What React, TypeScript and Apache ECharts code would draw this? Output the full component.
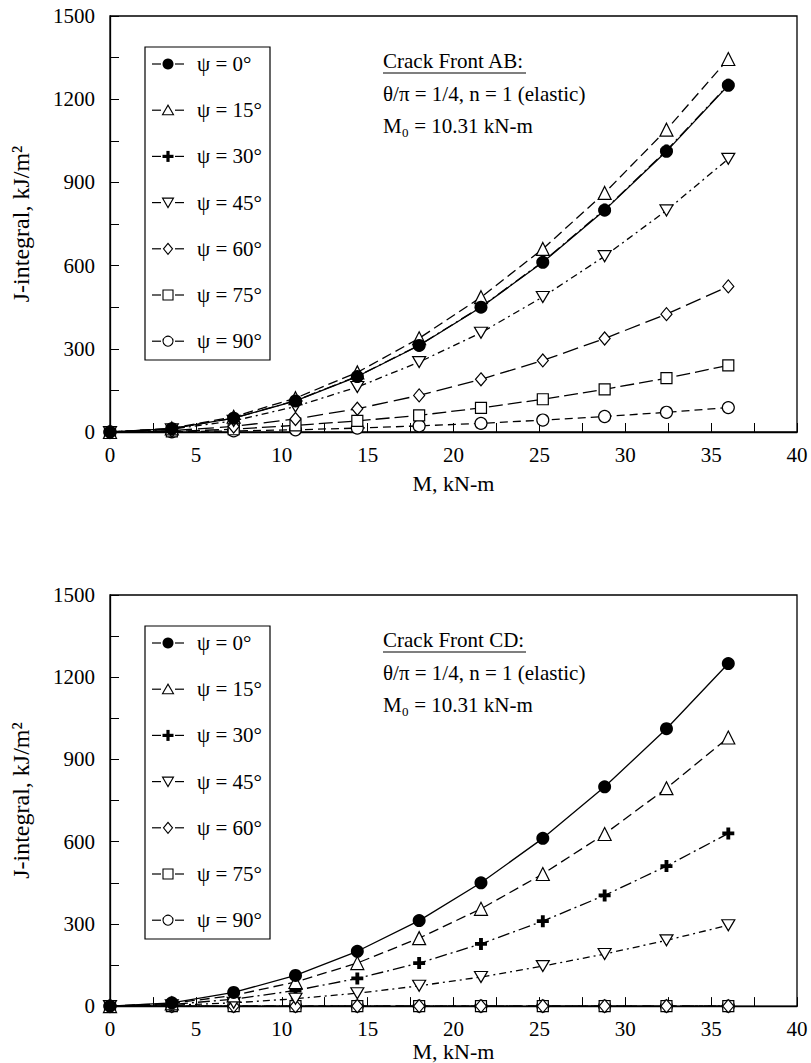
import React, { useEffect, useRef } from 'react';
import * as echarts from 'echarts';

// ---- data ----
const mValues = [0, 3.6, 7.2, 10.8, 14.4, 18, 21.6, 25.2, 28.8, 32.4, 36];
const psiLabels = ['ψ = 0°', 'ψ = 15°', 'ψ = 30°', 'ψ = 45°', 'ψ = 60°', 'ψ = 75°', 'ψ = 90°'];
const xTicks = [0, 5, 10, 15, 20, 25, 30, 35, 40];
const yTicks = [0, 300, 600, 900, 1200, 1500];

// Crack front AB
const abPsi0 = [0, 12, 50, 112, 200, 312, 450, 612, 800, 1012, 1250];
const abPsi15 = [0, 13, 55, 122, 215, 338, 486, 660, 862, 1090, 1345];
const abPsi30 = [0, 12, 50, 113, 201, 313, 451, 614, 802, 1015, 1252];
const abPsi45 = [0, 10, 40, 92, 162, 252, 358, 487, 634, 799, 985];
const abPsi60 = [0, 5, 20, 47, 84, 132, 190, 258, 337, 425, 525];
const abPsi75 = [0, 2, 10, 24, 40, 60, 87, 118, 154, 194, 240];
const abPsi90 = [0, 1, 4, 8, 14, 22, 31, 43, 56, 71, 88];

// Crack front CD
const cdPsi0 = [0, 12, 50, 112, 200, 312, 450, 612, 800, 1012, 1250];
const cdPsi15 = [0, 10, 39, 88, 157, 248, 355, 482, 628, 795, 980];
const cdPsi30 = [0, 6, 25, 57, 101, 157, 227, 310, 404, 511, 630];
const cdPsi45 = [0, 3, 12, 27, 47, 74, 106, 146, 190, 240, 295];
const cdPsi60 = [0, 0, 0, 0, 0, 0, 0, 0, 0, 0, 0];
const cdPsi75 = [0, 0, 0, 0, 0, 0, 0, 0, 0, 0, 0];
const cdPsi90 = [0, 0, 0, 0, 0, 0, 0, 0, 0, 0, 0];

const abSets = [abPsi0, abPsi15, abPsi30, abPsi45, abPsi60, abPsi75, abPsi90];
const cdSets = [cdPsi0, cdPsi15, cdPsi30, cdPsi45, cdPsi60, cdPsi75, cdPsi90];

const FONT = '"Liberation Serif", "Times New Roman", serif';
const BLACK = '#000';

const PLUS = 'path://M3.6,0h3.4v3.6h3.6v3.4h-3.6v3.6h-3.4v-3.6h-3.6v-3.4h3.6z';
const DOWN_TRI = 'path://M0,0L12,0L6,10.4Z';

const styles: any[] = [
  { symbol: 'circle', size: 13, fill: BLACK, bw: 0, dash: 'solid' },
  { symbol: 'triangle', size: 13, fill: '#fff', bw: 1.2, dash: [10, 5] },
  { symbol: PLUS, size: 12, fill: BLACK, bw: 0, dash: [12, 4, 2, 4] },
  { symbol: DOWN_TRI, size: [13, 11], fill: '#fff', bw: 1.2, dash: [7, 4, 2, 4] },
  { symbol: 'diamond', size: [11, 13], fill: '#fff', bw: 1.2, dash: [16, 6] },
  { symbol: 'rect', size: 11, fill: '#fff', bw: 1.2, dash: [14, 5] },
  { symbol: 'circle', size: 12, fill: '#fff', bw: 1.2, dash: [8, 5] },
];

const GRID_LEFT = 110;
const GRID_W = 687;
const GRID_H = 416;
const GRID_TOPS = [16, 595];
const X_NAME_GAPS = [40, 33];
const fronts = ['AB', 'CD'];
const drawOrder = [2, 6, 5, 4, 3, 1, 0];

function legendSymbol(k: number, cx: number, cy: number): any[] {
  const open = { fill: '#fff', stroke: BLACK, lineWidth: 1.1 };
  const solid = { fill: BLACK };
  switch (k) {
    case 0:
      return [{ type: 'circle', shape: { cx, cy, r: 5.5 }, style: solid, z: 12 }];
    case 1:
      return [{ type: 'polygon', shape: { points: [[cx - 5.5, cy + 4.5], [cx + 5.5, cy + 4.5], [cx, cy - 5]] }, style: open, z: 12 }];
    case 2:
      return [
        { type: 'rect', shape: { x: cx - 5.5, y: cy - 1.6, width: 11, height: 3.2 }, style: solid, z: 12 },
        { type: 'rect', shape: { x: cx - 1.6, y: cy - 5.5, width: 3.2, height: 11 }, style: solid, z: 12 },
      ];
    case 3:
      return [{ type: 'polygon', shape: { points: [[cx - 5.5, cy - 4.5], [cx + 5.5, cy - 4.5], [cx, cy + 5]] }, style: open, z: 12 }];
    case 4:
      return [{ type: 'polygon', shape: { points: [[cx, cy - 5.5], [cx + 4.5, cy], [cx, cy + 5.5], [cx - 4.5, cy]] }, style: open, z: 12 }];
    case 5:
      return [{ type: 'rect', shape: { x: cx - 5, y: cy - 5, width: 10, height: 10 }, style: open, z: 12 }];
    default:
      return [{ type: 'circle', shape: { cx, cy, r: 5 }, style: open, z: 12 }];
  }
}

function buildOption() {
  const grid = GRID_TOPS.map((t) => ({
    left: GRID_LEFT,
    top: t,
    width: GRID_W,
    height: GRID_H,
    show: true,
    borderColor: BLACK,
    borderWidth: 1.3,
    backgroundColor: 'transparent',
  }));

  const xAxis = GRID_TOPS.map((_, i) => ({
    type: 'value',
    gridIndex: i,
    min: xTicks[0],
    max: xTicks[xTicks.length - 1],
    interval: xTicks[1] - xTicks[0],
    name: 'M, kN-m',
    nameLocation: 'middle',
    nameGap: X_NAME_GAPS[i],
    nameTextStyle: { fontFamily: FONT, fontSize: 22, color: BLACK },
    axisLine: { show: true, lineStyle: { color: BLACK, width: 1.3 } },
    axisTick: { show: true, inside: true, length: 9, lineStyle: { color: BLACK, width: 1 } },
    minorTick: { show: true, splitNumber: 2, length: 9, lineStyle: { color: BLACK, width: 1 } },
    axisLabel: { fontFamily: FONT, fontSize: 21, color: BLACK, margin: 12, formatter: (v: number) => String(v) },
    splitLine: { show: false },
  }));

  const yAxis = GRID_TOPS.map((_, i) => ({
    type: 'value',
    gridIndex: i,
    min: yTicks[0],
    max: yTicks[yTicks.length - 1],
    interval: yTicks[1] - yTicks[0],
    name: 'J-integral, kJ/m²',
    nameLocation: 'middle',
    nameGap: 77,
    nameTextStyle: { fontFamily: FONT, fontSize: 24, color: BLACK },
    axisLine: { show: true, lineStyle: { color: BLACK, width: 1.3 } },
    axisTick: { show: true, inside: true, length: 9, lineStyle: { color: BLACK, width: 1 } },
    minorTick: { show: true, splitNumber: 2, length: 9, lineStyle: { color: BLACK, width: 1 } },
    axisLabel: { fontFamily: FONT, fontSize: 21, color: BLACK, margin: 15, formatter: (v: number) => String(v) },
    splitLine: { show: false },
  }));

  const series: any[] = [];
  [abSets, cdSets].forEach((sets, gi) => {
    drawOrder.forEach((k, order) => {
      const s = styles[k];
      series.push({
        type: 'line',
        name: psiLabels[k],
        xAxisIndex: gi,
        yAxisIndex: gi,
        data: mValues.map((m, j) => [m, sets[k][j]]),
        symbol: s.symbol,
        symbolSize: s.size,
        showAllSymbol: true,
        clip: false,
        z: 2 + order,
        itemStyle: { color: s.fill, borderColor: BLACK, borderWidth: s.bw, opacity: 1 },
        lineStyle: { color: BLACK, width: 1.3, type: s.dash },
        emphasis: { disabled: true },
      });
    });
  });

  const graphic: any[] = [];
  GRID_TOPS.forEach((t, i) => {
    const x0 = 383;
    const txt = { fontFamily: FONT, fontSize: 21, fill: BLACK } as any;
    graphic.push(
      { type: 'text', left: x0, top: t + 34, style: { ...txt, text: `Crack Front ${fronts[i]}:` } },
      { type: 'line', shape: { x1: x0, y1: t + 57, x2: x0 + 143, y2: t + 57 }, style: { stroke: BLACK, lineWidth: 1.2 } },
      { type: 'text', left: x0, top: t + 67, style: { ...txt, text: 'θ/π = 1/4, n = 1 (elastic)' } },
      { type: 'text', left: x0, top: t + 99, style: { ...txt, text: 'M' } },
      { type: 'text', left: x0 + 19, top: t + 110, style: { ...txt, fontSize: 13, text: '0' } },
      { type: 'text', left: x0 + 26, top: t + 99, style: { ...txt, text: ' = 10.31 kN-m' } }
    );
    graphic.push({
      type: 'rect',
      z: 10,
      shape: { x: 145, y: t + 31, width: 125, height: 313 },
      style: { fill: '#fff', stroke: BLACK, lineWidth: 1.2 },
    });
    psiLabels.forEach((lab, k) => {
      const cy = t + 48 + k * 46.2;
      const cx = 168;
      graphic.push(
        { type: 'line', z: 11, shape: { x1: 152, y1: cy, x2: 161, y2: cy }, style: { stroke: BLACK, lineWidth: 1.2 } },
        { type: 'line', z: 11, shape: { x1: 175, y1: cy, x2: 184, y2: cy }, style: { stroke: BLACK, lineWidth: 1.2 } },
        ...legendSymbol(k, cx, cy),
        {
          type: 'text',
          z: 12,
          x: 197,
          y: cy,
          style: { text: lab, fontFamily: FONT, fontSize: 21, fill: BLACK, verticalAlign: 'middle', align: 'left' },
        }
      );
    });
  });

  return {
    animation: false,
    backgroundColor: '#fff',
    grid,
    xAxis,
    yAxis,
    series,
    graphic,
  };
}

export default function App() {
  const ref = useRef<HTMLDivElement>(null);
  useEffect(() => {
    if (!ref.current) return;
    const chart = echarts.init(ref.current, undefined, { renderer: 'svg' });
    chart.setOption(buildOption() as any);
    return () => chart.dispose();
  }, []);
  return (
    <div
      ref={ref}
      style={{ position: 'absolute', left: 0, top: 0, width: 811, height: 1063, background: '#fff' }}
    />
  );
}
